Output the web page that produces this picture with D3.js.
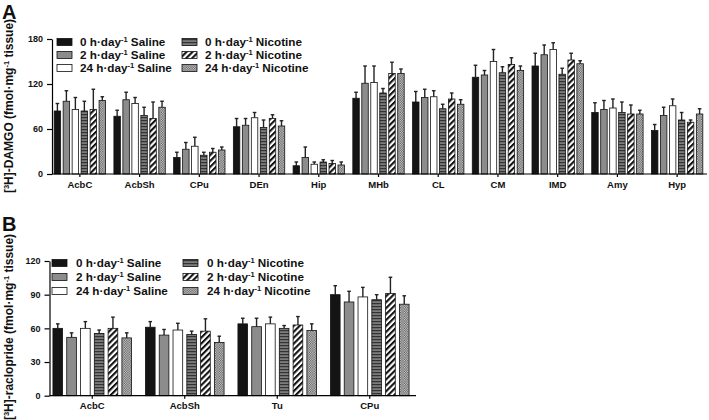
<!DOCTYPE html>
<html>
<head>
<meta charset="utf-8">
<script src="https://cdn.jsdelivr.net/npm/d3@7"></script>
<style>
  body { margin: 0; background: #fff; }
  svg { font-family: "Liberation Sans", Arial, sans-serif; font-weight: bold; }
</style>
</head>
<body>
<div id="chart"></div>
<script>
// Series (same order in both panels)
const seriesDose = ["0", "2", "24", "0", "2", "24"];
const seriesDrug = ["Saline", "Saline", "Saline", "Nicotine", "Nicotine", "Nicotine"];

// Panel A: [3H]-DAMGO binding, one row per region, one value per series
const damgoRegions = ["AcbC", "AcbSh", "CPu", "DEn", "Hip", "MHb", "CL", "CM", "IMD", "Amy", "Hyp"];
const damgoMean = [
  [84, 97, 86, 84, 86, 98],
  [77, 99, 94, 78, 74, 89],
  [22, 33, 37, 25, 29, 32],
  [63, 65, 75, 62, 74, 64],
  [11, 22, 13, 16, 14, 12],
  [101, 121, 122, 108, 134, 134],
  [96, 102, 103, 87, 100, 93],
  [129, 132, 150, 135, 146, 138],
  [144, 159, 166, 133, 152, 147],
  [82, 86, 88, 82, 80, 80],
  [58, 78, 91, 72, 69, 80]
];
const damgoSem = [
  [10, 14, 16, 13, 27, 5],
  [8, 10, 8, 11, 22, 8],
  [7, 9, 12, 4, 5, 4],
  [11, 9, 7, 10, 5, 7],
  [5, 14, 3, 3, 4, 4],
  [8, 23, 22, 6, 15, 6],
  [14, 11, 8, 6, 8, 6],
  [16, 6, 16, 8, 9, 6],
  [17, 13, 9, 8, 9, 4],
  [13, 12, 12, 14, 12, 5],
  [8, 11, 9, 10, 3, 7]
];
const damgoTicks = [0, 60, 120, 180];

// Panel B: [3H]-raclopride binding
const raclRegions = ["AcbC", "AcbSh", "Tu", "CPu"];
const raclMean = [
  [60, 52, 60, 55.5, 60, 51.5],
  [61, 54, 58.5, 54.5, 57.5, 47.5],
  [64, 61.5, 64, 60, 63, 58],
  [90, 83.5, 88, 85.5, 91, 81.5]
];
const raclSem = [
  [4, 4, 6, 3, 10, 4.5],
  [5, 5, 6, 3, 11, 5.5],
  [5, 7.5, 6, 2.5, 7.5, 6],
  [8, 9.5, 8.5, 4.5, 14.5, 7.5]
];
const raclTicks = [0, 30, 60, 90, 120];

const width = 709;
const height = 420;

const svg = d3.select("#chart")
  .append("svg")
    .attr("width", width)
    .attr("height", height);

/*  Fill patterns  */
const defs = svg.append("defs");

const hStripes = defs.append("pattern")
  .attr("id", "hstripes")
  .attr("patternUnits", "userSpaceOnUse")
  .attr("width", 4).attr("height", 3);
hStripes.append("rect").attr("width", 4).attr("height", 3).attr("fill", "#7c7c7c");
hStripes.append("rect").attr("y", 0).attr("width", 4).attr("height", 1.2).attr("fill", "#333");

const diag = defs.append("pattern")
  .attr("id", "diag")
  .attr("patternUnits", "userSpaceOnUse")
  .attr("width", 4.2).attr("height", 4.2)
  .attr("patternTransform", "rotate(45)");
diag.append("rect").attr("width", 4.2).attr("height", 4.2).attr("fill", "#fff");
diag.append("rect").attr("width", 2.1).attr("height", 4.2).attr("fill", "#111");

const checker = defs.append("pattern")
  .attr("id", "checker")
  .attr("patternUnits", "userSpaceOnUse")
  .attr("width", 2.4).attr("height", 2.4);
checker.append("rect").attr("width", 2.4).attr("height", 2.4).attr("fill", "#d4d4d4");
checker.append("rect").attr("width", 1.2).attr("height", 1.2).attr("fill", "#555");
checker.append("rect").attr("x", 1.2).attr("y", 1.2).attr("width", 1.2).attr("height", 1.2).attr("fill", "#555");

const seriesFill = ["#141414", "#8c8c8c", "#ffffff", "url(#hstripes)", "url(#diag)", "url(#checker)"];
const seriesIdx = d3.range(seriesDose.length);

/*  One grouped bar panel  */
const drawPanel = (cfg) => {
  const g = svg.append("g");

  const x0 = d3.scaleBand()
    .domain(cfg.regions)
    .range(cfg.xRange)
    .paddingInner(cfg.padOuterGroup)
    .paddingOuter(cfg.padOuterGroup / 2);

  const x1 = d3.scaleBand()
    .domain(seriesIdx)
    .range([0, x0.bandwidth()])
    .paddingInner(cfg.padBar);

  const y = d3.scaleLinear()
    .domain([0, d3.max(cfg.ticks)])
    .range(cfg.yRange);

  // Bars
  const groups = g.selectAll(".region")
    .data(cfg.regions)
    .join("g")
      .attr("transform", d => `translate(${x0(d)},0)`);

  groups.each(function(region, ri) {
    const rows = seriesIdx.map(si => ({si, m: cfg.mean[ri][si], e: cfg.sem[ri][si]}));
    const sel = d3.select(this);

    // Error bars (upper only)
    sel.selectAll("line.err")
      .data(rows)
      .join("line")
        .attr("x1", d => x1(d.si) + x1.bandwidth() / 2)
        .attr("x2", d => x1(d.si) + x1.bandwidth() / 2)
        .attr("y1", d => y(d.m))
        .attr("y2", d => y(d.m + d.e))
        .attr("stroke", "#222")
        .attr("stroke-width", 1.4);
    sel.selectAll("line.cap")
      .data(rows)
      .join("line")
        .attr("x1", d => x1(d.si) + x1.bandwidth() / 2 - 1.8)
        .attr("x2", d => x1(d.si) + x1.bandwidth() / 2 + 1.8)
        .attr("y1", d => y(d.m + d.e))
        .attr("y2", d => y(d.m + d.e))
        .attr("stroke", "#222")
        .attr("stroke-width", 1.4);

    sel.selectAll("rect")
      .data(rows)
      .join("rect")
        .attr("x", d => x1(d.si))
        .attr("y", d => y(d.m))
        .attr("width", x1.bandwidth())
        .attr("height", d => y(0) - y(d.m))
        .attr("fill", d => seriesFill[d.si])
        .attr("stroke", "#111")
        .attr("stroke-width", 0.8);
  });

  // Y axis
  g.append("g")
    .attr("transform", `translate(${cfg.yAxisX},0)`)
    .call(d3.axisLeft(y).tickValues(cfg.ticks).tickSize(5).tickPadding(4).tickSizeOuter(0))
    .call(ax => ax.select(".domain").attr("stroke-width", 1.2))
    .call(ax => ax.selectAll(".tick line").attr("stroke-width", 1.2))
    .call(ax => ax.selectAll("text")
      .style("font-size", "9px").style("font-weight", "bold").attr("fill", "#111"));

  // X axis
  const xAxis = g.append("g")
    .attr("transform", `translate(0,${y(0)})`)
    .call(d3.axisBottom(x0).tickSize(3).tickPadding(4).tickSizeOuter(0));
  xAxis.select(".domain")
    .attr("d", `M${cfg.yAxisX},0H${cfg.xRange[1]}`)
    .attr("stroke-width", 1.2);
  xAxis.selectAll(".tick line").attr("stroke-width", 1.2);
  xAxis.selectAll("text")
    .style("font-size", "9.5px").style("font-weight", "bold").attr("fill", "#111");

  // Y title
  const title = g.append("text")
    .attr("transform", `translate(${cfg.titleX},${cfg.titleY}) rotate(-90)`)
    .attr("text-anchor", "middle")
    .style("font-size", "12px")
    .attr("fill", "#111");
  title.append("tspan").text("[");
  title.append("tspan").text("3").style("font-size", "7.5px").attr("dy", -4.5);
  title.append("tspan").text(`H]-${cfg.ligand} (fmol·mg`).attr("dy", 4.5);
  title.append("tspan").text("-1").style("font-size", "7.5px").attr("dy", -4.5);
  title.append("tspan").text(" tissue)").attr("dy", 4.5);

  // Panel letter
  g.append("text")
    .attr("x", 2)
    .attr("y", cfg.letterY)
    .text(cfg.letter)
    .style("font-size", "20px")
    .attr("fill", "#111");

  // Legend
  const legend = g.selectAll(".legend")
    .data(seriesIdx)
    .join("g")
      .attr("transform", si => `translate(${cfg.legendX[Math.floor(si / 3)]},${cfg.legendY + (si % 3) * cfg.legendStep})`);
  legend.append("rect")
    .attr("x", 0).attr("y", -3.5)
    .attr("width", 15).attr("height", 7)
    .attr("fill", si => seriesFill[si])
    .attr("stroke", "#111")
    .attr("stroke-width", 0.8);
  const lt = legend.append("text")
    .attr("x", cfg.legendText)
    .attr("y", 4)
    .style("font-size", "11.7px")
    .attr("fill", "#111");
  lt.append("tspan").text(si => `${seriesDose[si]} h·day`);
  lt.append("tspan").text("-1").style("font-size", "7.5px").attr("dy", -4.5);
  lt.append("tspan").text(si => ` ${seriesDrug[si]}`).attr("dy", 4.5);
};

drawPanel({
  regions: damgoRegions, mean: damgoMean, sem: damgoSem, ticks: damgoTicks,
  xRange: [50, 707], yRange: [174, 39], yAxisX: 52,
  padOuterGroup: 0.14, padBar: 0.28,
  ligand: "DAMGO", titleX: 13, titleY: 106,
  letter: "A", letterY: 19,
  legendX: [57, 182], legendY: 42, legendStep: 13, legendText: 23
});

drawPanel({
  regions: raclRegions, mean: raclMean, sem: raclSem, ticks: raclTicks,
  xRange: [46, 416], yRange: [395.7, 261], yAxisX: 49.5,
  padOuterGroup: 0.15, padBar: 0.3,
  ligand: "raclopride", titleX: 13, titleY: 327,
  letter: "B", letterY: 231,
  legendX: [52, 183], legendY: 263, legendStep: 14, legendText: 24
});
</script>
</body>
</html>
